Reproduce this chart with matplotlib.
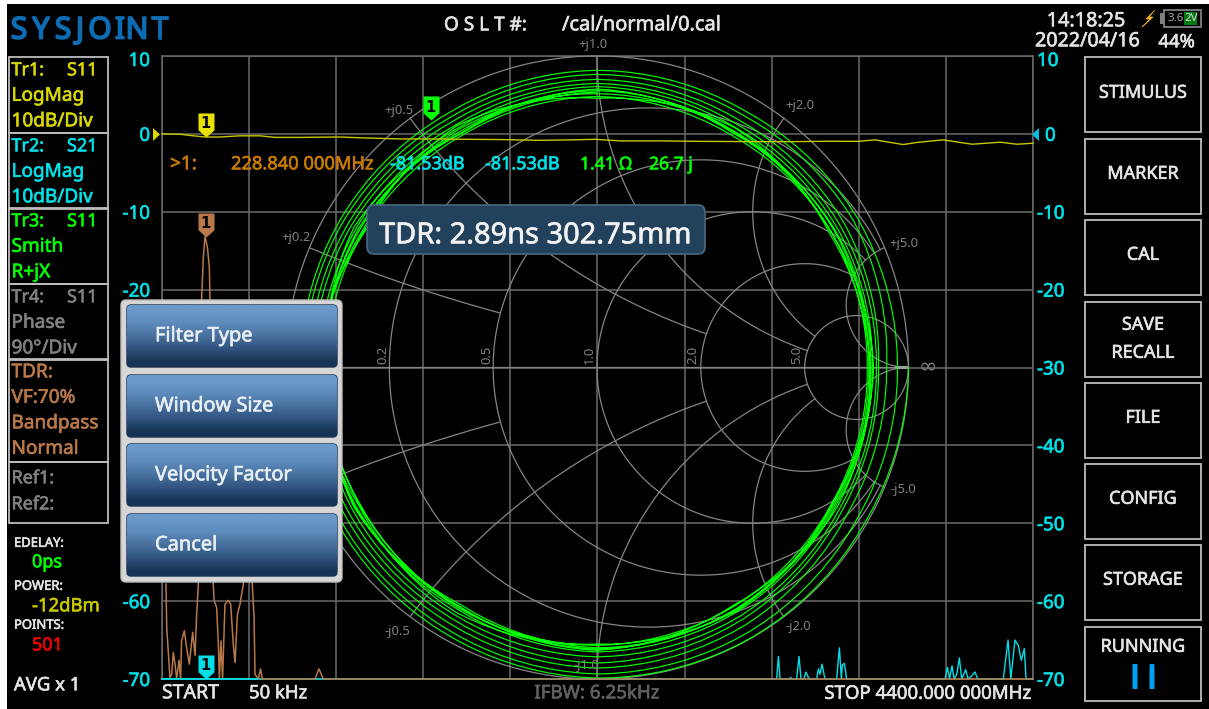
import numpy as np
import matplotlib
matplotlib.use("Agg")
import matplotlib.pyplot as plt
import matplotlib.patheffects as pe
from matplotlib.patches import Rectangle, FancyBboxPatch, Polygon
from matplotlib.path import Path

plt.rcParams['font.family'] = ['Noto Sans', 'DejaVu Sans']
plt.rcParams['path.simplify'] = False

# ------------------ data ------------------
Y_TICKS = [10, 0, -10, -20, -30, -40, -50, -60, -70]
X_GRID_MHZ = [0.05, 440, 880, 1320, 1760, 2200, 2640, 3080, 3520, 3960, 4400]

S11_MHZ = [0.05, 91, 141, 217, 293, 394, 495, 571, 697, 899, 1000, 1202, 1354, 1556, 1708, 1910, 2061,
           2188, 2314, 2516, 2718, 3021, 3173, 3375, 3516, 3602, 3744, 3814, 3946, 4092, 4233, 4320, 4400]
S11_DB = [0.0, -0.05, -0.2, -0.4, -0.4, -0.25, -0.25, -0.45, -0.45, -0.4, -0.5, -0.65, -0.65, -0.7, -0.73,
          -0.83, -0.77, -0.7, -0.9, -0.9, -0.96, -1.0, -1.0, -0.95, -0.96, -0.77, -1.37, -1.1, -0.77,
          -1.33, -1.07, -1.33, -1.2]

TDR_MHZ = [20, 24, 40, 49, 57, 66, 74, 86, 94, 99, 113, 125, 138, 155, 167, 175, 184, 200.6, 209, 217, 229,
           239, 242, 259, 263, 276, 285, 290, 298, 306, 318, 335, 347, 360, 369, 381, 394, 411, 433, 456,
           465, 470, 487, 498, 507, 773, 793, 815, 4400]
TDR_DB = [-57.8, -63.4, -69.8, -69.4, -66.6, -68.1, -70, -67.6, -70, -65.1, -63.8, -66.1, -68.1, -64, -67,
          -61.7, -57.8, -21.0, -15.8, -13.2, -14.5, -17, -20.8, -57.8, -59.9, -60.8, -65.7, -70, -65.1, -70,
          -60.4, -59.9, -60.4, -65.5, -67.9, -61.7, -60.4, -57.8, -50, -57.8, -62.1, -69.4, -70, -68.7, -70,
          -70, -68.7, -70, -70]

S21_MHZ = [0.05, 3105, 3114, 3122, 3170, 3176, 3182, 3206, 3218, 3228, 3243, 3253, 3265, 3274, 3307, 3316,
           3324, 3334, 3349, 3408, 3422, 3432, 3437, 3447, 3459, 3956, 3968, 3978, 3991, 4001, 4015, 4028,
           4040, 4060, 4072, 4090, 4107, 4121, 4250, 4274, 4288, 4294, 4309, 4326, 4341, 4356, 4365, 4400]
S21_DB = [-70, -70, -67.1, -70, -70, -69.8, -70, -70, -67.1, -70, -70, -69.1, -69.8, -70, -70, -68.7, -69.4,
          -68.1, -70, -70, -66, -70, -68.2, -68, -70, -70, -68.5, -70, -68.3, -70, -69.4, -67.3, -70, -68.8,
          -70, -69.6, -69.1, -70, -70, -65, -70, -68.5, -65, -65.7, -67.6, -66.1, -70, -70]
S21_TOP_MHZ = [0.05, 480]
S21_TOP_DB = [-70, -70]

# |Gamma| of the S11 Smith trace, one row per turn, read every 30 degrees clockwise from the right
SMITH_ANGLES = [0, -30, -60, -90, -120, -150, -180, -210, -240, -270, -300, -330]
TURN_1 = [1.000, .994, .999, .997, .983, .971, .953, .951, .946, .954, .951, .964]
TURN_2 = [.965, .966, .979, .984, .968, .958, .940, .940, .931, .941, .936, .949]
TURN_3 = [.930, .931, .954, .965, .948, .938, .924, .923, .916, .925, .916, .919]
TURN_4 = [.904, .911, .934, .949, .931, .923, .911, .911, .901, .912, .901, .904]
TURN_5 = [.897, .901, .921, .929, .916, .908, .892, .893, .889, .902, .889, .892]
TURN_6 = [.884, .886, .904, .913, .896, .893, .881, .881, .876, .889, .877, .879]
TURN_7 = [.873, .876, .894, .904, .886, .881, .869, .868, .862, .870, .862, .869]
TURN_8 = [.868, .871, .884, .892, .891, .878, .885, .872, .884, .879, .875, .868]
TURN_9 = [.888, .872, .900, .888, .907, .884, .898, .864, .897, .864, .888, .862]
TURN_10 = [.876, .892, .880, .908, .885, .897, .875, .886, .870, .894, .870, .883]
TURN_11 = [.879, .881, .896, .900, .878, .900, .866, .901, .868, .884]
SMITH_TURNS = [TURN_1, TURN_2, TURN_3, TURN_4, TURN_5, TURN_6, TURN_7, TURN_8, TURN_9, TURN_10, TURN_11]
SMITH_MARKER = (-0.534, 0.794)

# constant-resistance circles: (r, |x| limit); constant-reactance arcs: (x, r limit)
R_CIRCLES = [(0.2, 5), (0.5, 5), (1.0, 5), (2.0, 5), (5.0, 1000)]
X_ARCS = [(0.2, 0.5), (0.5, 2), (1.0, 5), (2.0, 5), (5.0, 1000)]

LOGO_LETTERS = list("SYSJOINT")
TRACE_PANELS = [("Tr1:", "S11", ["LogMag", "10dB/Div"]), ("Tr2:", "S21", ["LogMag", "10dB/Div"]),
                ("Tr3:", "S11", ["Smith", "R+jX"]), ("Tr4:", "S11", ["Phase", "90\u00b0/Div"])]
DIALOG_ITEMS = ["Filter Type", "Window Size", "Velocity Factor", "Cancel"]
SIDE_BUTTONS = ["STIMULUS", "MARKER", "CAL", "SAVE", "RECALL", "FILE", "CONFIG", "STORAGE"]
SMITH_REACT_LABELS = ["+j1.0", "+j0.5", "+j0.2", "+j2.0", "+j5.0", "-j0.5", "-j1.0", "-j2.0", "-j5.0"]
SMITH_RES_LABELS = ["0.2", "0.5", "1.0", "2.0", "5.0"]

# ------------------ colours ------------------
YEL = "#D8D800"; CYAN = "#00E0E8"; GRN = "#00FF00"; GREY = "#808080"; BRN = "#B87848"; ORG = "#C87A00"
GRID = "#6A6A6A"; TXT = "#E4E4E4"

W, H = 1209, 709
fig = plt.figure(figsize=(W / 100, H / 100), dpi=100, facecolor="black")
fig.patches.append(Rectangle((0, 0), 7 / W, 1, transform=fig.transFigure, fc="white", ec="none"))
fig.patches.append(Rectangle((0, 1 - 4 / H), 1, 4 / H, transform=fig.transFigure, fc="white", ec="none"))


def rect(l, t, r, b):
    return [l / W, 1 - b / H, (r - l) / W, (b - t) / H]


def heavy(col, w=0.45):
    return [pe.withStroke(linewidth=w, foreground=col)]


L, T_, R, B = 162, 56, 1033, 679
CX, CY, RAD = 597, 367.5, 311.5

# ---- grid axes
ax = fig.add_axes(rect(L, T_, R, B), facecolor="black", zorder=1)
ax.set_xlim(0.05, 4400)
ax.set_ylim(-70, 10)
ax.set_xticks(X_GRID_MHZ)
ax.set_yticks(Y_TICKS)
ax.grid(True, color=GRID, lw=1.1)
ax.tick_params(length=0, labelbottom=False, labelleft=False)
for s in ax.spines.values():
    s.set_color(GRID)
    s.set_linewidth(1.1)
for v in Y_TICKS:
    dy = -5 if v == 10 else -2
    a1 = ax.annotate(str(v), (0, v), xycoords=("axes fraction", "data"), xytext=(-12, dy), textcoords="offset pixels",
                     ha="right", va="center", color=CYAN, fontsize=13.5, annotation_clip=False)
    dx = 12 if v == 0 else 4
    a2 = ax.annotate(str(v), (1, v), xycoords=("axes fraction", "data"), xytext=(dx, dy), textcoords="offset pixels",
                     ha="left", va="center", color=CYAN, fontsize=13.5, annotation_clip=False)
    a1.set_path_effects(heavy(CYAN))
    a2.set_path_effects(heavy(CYAN))

# ---- Smith grid in the Gamma plane
sm = fig.add_axes(rect(CX - RAD, CY - RAD, CX + RAD, CY + RAD), zorder=2)
sm.patch.set_alpha(0)
sm.set_xlim(-1, 1)
sm.set_ylim(-1, 1)
sm.axis("off")


def gamma(z):
    return (z - 1) / (z + 1)


sg = dict(color="#858585", lw=0.9)
for r, xlim in R_CIRCLES:
    xs = np.tan(np.linspace(-np.arctan(xlim), np.arctan(xlim), 400))
    g = gamma(r + 1j * xs)
    sm.plot(g.real, g.imag, **sg)
for x, rlim in X_ARCS:
    rs = np.tan(np.linspace(0, np.arctan(rlim), 300))
    for sign in (1, -1):
        g = gamma(rs + 1j * sign * x)
        sm.plot(g.real, g.imag, **sg)
th = np.linspace(0, 2 * np.pi, 720)
sm.plot(np.cos(th), np.sin(th), clip_on=False, **sg)
sm.plot([-1, 1], [0, 0], **sg)
sm.plot([0.96, 1.0], [0, 0], color="#A0A0A0", lw=2.2)

# ---- Smith trace on a polar axes
po = fig.add_axes(rect(CX - RAD, CY - RAD, CX + RAD, CY + RAD), projection="polar", zorder=3)
po.patch.set_alpha(0)
po.set_rlim(0, 1)
po.axis("off")
theta, mag = [], []
for i, turn in enumerate(SMITH_TURNS):
    for a, m in zip(SMITH_ANGLES, turn):
        theta.append(np.radians(a - 360 * i))
        mag.append(m)
ln, = po.plot(theta, mag, color=GRN, lw=0.85, clip_on=False)
ln.get_path()._interpolation_steps = 10

# ---- rectangular traces
tr = fig.add_axes(rect(L, T_, R, B), zorder=4)
tr.patch.set_alpha(0)
tr.set_xlim(0.05, 4400)
tr.set_ylim(-70, 10)
tr.axis("off")
tr.plot(S21_MHZ, S21_DB, color=CYAN, lw=1.0, clip_on=False)
tr.plot(TDR_MHZ, TDR_DB, color=BRN, lw=1.1, clip_on=False)
tr.plot(S21_TOP_MHZ, S21_TOP_DB, color=CYAN, lw=1.1, clip_on=False)
tr.plot(S11_MHZ, S11_DB, color="#C8C800", lw=1.0, clip_on=False)

PENNANT = Path([(-.5, 1.5), (.5, 1.5), (.5, .45), (0, 0), (-.5, .45), (-.5, 1.5)], closed=True)


def flag(a, x, y, col):
    a.plot([x], [y], marker=PENNANT, ms=34.6, mfc=col, mec="none", mew=0, ls="none", clip_on=False, zorder=6)
    a.annotate("1", (x, y), xytext=(0, 13), textcoords="offset pixels", ha="center", va="center",
               color="black", fontsize=10.5, fontweight="bold", family="DejaVu Sans",
               annotation_clip=False, zorder=7)


flag(tr, 222, -0.4, "#E8E000")
flag(tr, 222, -13.2, BRN)
flag(tr, 222, -70, "#00E0E8")
smf = fig.add_axes(rect(CX - RAD, CY - RAD, CX + RAD, CY + RAD), zorder=5)
smf.patch.set_alpha(0)
smf.set_xlim(-1, 1)
smf.set_ylim(-1, 1)
smf.axis("off")
flag(smf, SMITH_MARKER[0], SMITH_MARKER[1], GRN)

# ---- UI overlay, pixel coordinates
ui = fig.add_axes([0, 0, 1, 1], zorder=10)
ui.patch.set_alpha(0)
ui.axis("off")


def T(x, y, s, col=TXT, px=18, ha="left", va="center", w=0.45, **kw):
    t = ui.text(x, y + 1.8, s, color=col, fontsize=px * 0.72, ha=ha, va=va, **kw)
    if w:
        t.set_path_effects(heavy(col, w))
    return t


def box(l, t, r, b, ec="#BDBDBD", lw=1.3, fc="none"):
    ui.add_patch(Rectangle((l, t), r - l, b - t, fc=fc, ec=ec, lw=lw))


# triangles at both ends of the 0 dB line
ui.add_patch(Polygon([(1032, 134.5), (1039, 128), (1039, 141)], fc="#00C0E8", ec="none"))
ui.add_patch(Polygon([(160, 134.5), (153, 128), (153, 141)], fc=YEL, ec="none"))

# logo and header
for ch, x in zip(LOGO_LETTERS, [19, 41, 63, 80, 100, 120, 137, 160]):
    ui.text(x, 27, ch, color="#0E6DB2", fontsize=30 * 0.72, ha="center", va="center_baseline",
            path_effects=heavy("#0E6DB2", 1.3))
T(444, 23.5, "O S L T #:", TXT, 19)
T(562, 23.5, "/cal/normal/0.cal", TXT, 20)
T(1125, 19.5, "14:18:25", TXT, 19.8, ha="right")
T(1140, 39.5, "2022/04/16", TXT, 19.7, ha="right")
T(1195, 40.5, "44%", TXT, 18.5, ha="right")
ui.add_patch(Polygon([(1155, 10), (1146, 19), (1150, 19), (1142, 27), (1153, 17), (1149, 17)], fc="#F0B020", ec="#F0B020", lw=0.5))
ui.add_patch(Rectangle((1160, 13), 4, 11, fc="#808080", ec="none"))
ui.add_patch(Rectangle((1184, 12), 13, 13, fc="#007A10", ec="none"))
box(1164, 10, 1201, 27, ec="#808080", lw=1.3)
T(1167, 17, "3.6", "#A8A8A8", 11.5, w=0)
T(1184, 17, "2V", "#E0E0E0", 11.5, w=0)

# left panels
cols = [YEL, CYAN, GRN, GREY]
tops = [57, 133, 208, 284]
for (h1, h2, rows), col, t in zip(TRACE_PANELS, cols, tops):
    box(8.5, t, 107.5, t + 75.5)
    T(11.5, t + 11.5, h1, col, 18)
    T(67, t + 11.5, h2, col, 18)
    for i, s in enumerate(rows):
        T(11.5, t + 37 + 25.5 * i, s, col, 19)
box(8.5, 359, 107.5, 461.5)
for i, s in enumerate(["TDR:", "VF:70%", "Bandpass", "Normal"]):
    T(11.5, 370.5 + 25.5 * i, s, BRN, 19)
box(8.5, 461.5, 107.5, 523)
T(11.5, 476.5, "Ref1:", GREY, 18)
T(11.5, 502.5, "Ref2:", GREY, 18)

T(14, 541.5, "EDELAY:", TXT, 13)
T(32, 560.5, "0ps", GRN, 18)
T(14, 584.5, "POWER:", TXT, 13)
T(32, 604.5, "-12dBm", "#C8C800", 18.5)
T(14, 623.5, "POINTS:", TXT, 13)
T(32, 643.5, "501", "#F00000", 18)
T(14, 683.5, "AVG x 1", TXT, 18.5)

# bottom line
T(162, 691.5, "START", TXT, 19.5)
T(249, 691.5, "50 kHz", TXT, 18.5)
T(597, 691.5, "IFBW: 6.25kHz", "#606060", 18.7, ha="center")
T(1031, 692, "STOP 4400.000 000MHz", TXT, 18.6, ha="right")

# readout
T(170, 162.5, ">1:", ORG, 19)
T(231, 162.5, "228.840 000MHz", ORG, 18.3)
T(390, 162.5, "-81.53dB", CYAN, 18)
T(485, 162.5, "-81.53dB", CYAN, 18)
T(580, 162.5, "1.41 \u03a9", GRN, 17.5)
T(649, 162.5, "26.7 j", GRN, 17.5)

# Smith labels
for s, (x, y) in zip(SMITH_REACT_LABELS, [(593, 43), (399, 109), (296, 236), (800, 104), (904, 242),
                                         (397, 630), (586, 664), (798, 625), (903, 488)]):
    T(x, y, s, GREY, 13, ha="center", w=0)
for s, x in zip(SMITH_RES_LABELS, [383, 487, 589, 693, 797]):
    T(x, 353, s, GREY, 13, ha="center", rotation=90, w=0)
T(928, 365, "\u221e", GREY, 22, ha="center", w=0)

# TDR box
ui.add_patch(FancyBboxPatch((374, 212), 324, 35, boxstyle="round,pad=7", fc="#22415C", ec="#4A6880", lw=1.2))
T(379, 234, "TDR: 2.89ns 302.75mm", "#F2F2F2", 29)

# dialog
ui.add_patch(FancyBboxPatch((126, 305), 211, 272, boxstyle="round,pad=5", fc="#D6D6D6", ec="#BBBBBB", lw=1))
grad = np.array([[0.42, 0.60, 0.79], [0.36, 0.54, 0.73], [0.28, 0.44, 0.62], [0.19, 0.33, 0.50],
                 [0.09, 0.21, 0.34]])[:, None, :]
for s, t in zip(DIALOG_ITEMS, [305, 375, 444, 514]):
    pb = FancyBboxPatch((131, t + 4), 202, 54, boxstyle="round,pad=4", fc="#16314E", ec="#16314E", lw=1)
    ui.add_patch(pb)
    im = ui.imshow(grad, extent=(127, 337, t + 62, t), aspect="auto", interpolation="bilinear", zorder=2)
    im.set_clip_path(pb)
    T(155, t + 29.5, s, "#E8EEF4", 20, zorder=3)

# side buttons
for t in [57, 139, 220, 302, 383, 464, 545]:
    box(1084.5, t, 1201, t + 75)
for s, yc in zip(SIDE_BUTTONS, [91, 172, 253, 323, 351, 416, 497, 578]):
    T(1143, yc, s, TXT, 18, ha="center")
box(1084.5, 626.5, 1201, 701)
T(1143, 645, "RUNNING", TXT, 18, ha="center")
for x in (1135, 1152):
    ui.add_patch(FancyBboxPatch((x - 1.5, 665), 3, 23, boxstyle="round,pad=1", fc="#00A0F0", ec="none"))

ui.set_xlim(0, W)
ui.set_ylim(H, 0)

fig.savefig("out.png", dpi=100, facecolor=fig.get_facecolor())
